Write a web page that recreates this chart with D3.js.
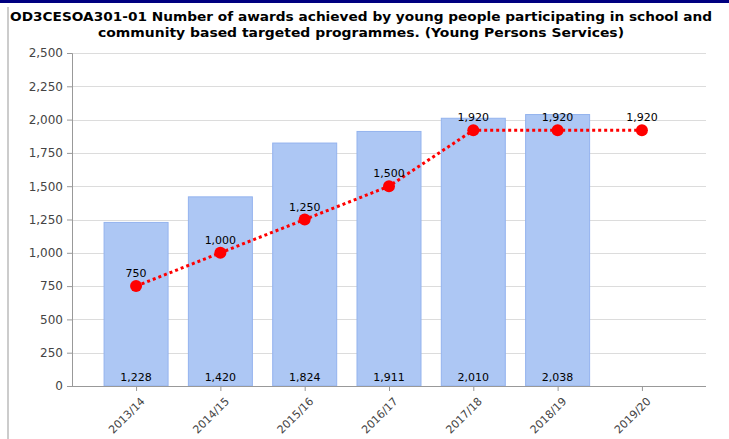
<!DOCTYPE html>
<html><head><meta charset="utf-8">
<script src="https://cdn.jsdelivr.net/npm/d3@7"></script>
<style>body{margin:0;background:#fff}svg{display:block}</style>
</head><body>
<script>
const categories = ["2013/14","2014/15","2015/16","2016/17","2017/18","2018/19","2019/20"];
const actuals = [1228, 1420, 1824, 1911, 2010, 2038, null];
const targets = [750, 1000, 1250, 1500, 1920, 1920, 1920];
const yTicks = [0,250,500,750,1000,1250,1500,1750,2000,2250,2500];
const titleLines = ["OD3CESOA301-01 Number of awards achieved by young people participating in school and",
                    "community based targeted programmes. (Young Persons Services)"];

(function(){
const W = 729, H = 439;
const svg = d3.select("body").append("svg").attr("width", W).attr("height", H);
const font = "Verdana, 'DejaVu Sans', sans-serif";

// frame decorations
svg.append("line").attr("x1",0).attr("x2",W).attr("y1",1.5).attr("y2",1.5).attr("stroke","#000080").attr("stroke-width",3);
svg.append("line").attr("x1",8).attr("x2",8).attr("y1",7).attr("y2",H).attr("stroke","#cccccc").attr("stroke-width",2);

// title
svg.append("text").attr("x",361).attr("y",21).attr("text-anchor","middle")
  .attr("font-family","'DejaVu Sans', sans-serif").attr("font-weight","bold").attr("font-size",13)
  .attr("textLength",702).attr("lengthAdjust","spacingAndGlyphs").attr("fill","#000").text(titleLines[0]);
svg.append("text").attr("x",361).attr("y",37).attr("text-anchor","middle")
  .attr("font-family","'DejaVu Sans', sans-serif").attr("font-weight","bold").attr("font-size",13)
  .attr("textLength",526).attr("lengthAdjust","spacingAndGlyphs").attr("fill","#000").text(titleLines[1]);

const pLeft = 72, pRight = 706, pTop = 53, pBottom = 386;
const x = d3.scalePoint().domain(categories).range([pLeft, pRight]).padding(0.76);
const y = d3.scaleLinear().domain([0, 2500]).range([pBottom, pTop]);
const barW = 64;

// gridlines
svg.append("g").selectAll("line").data(yTicks.filter(d=>d>0)).join("line")
  .attr("x1", pLeft).attr("x2", pRight).attr("y1", d=>Math.round(y(d))+0.5).attr("y2", d=>Math.round(y(d))+0.5)
  .attr("stroke","#dcdcdc").attr("stroke-width",1);

// bars
const barData = categories.map((c,i)=>({c, v: actuals[i]})).filter(d=>d.v!=null);
svg.append("g").selectAll("rect").data(barData).join("rect")
  .attr("x", d=>x(d.c)-barW/2).attr("y", d=>y(d.v))
  .attr("width", barW).attr("height", d=>pBottom - y(d.v))
  .attr("fill","#adc7f4").attr("stroke","#94b3ee").attr("stroke-width",1);

svg.append("g").selectAll("text").data(barData).join("text")
  .attr("x", d=>x(d.c)).attr("y", 381).attr("text-anchor","middle")
  .attr("font-family",font).attr("font-size",11).attr("fill","#000").text(d=>d3.format(",")(d.v));

// y axis
const yAxis = d3.axisLeft(y).tickValues(yTicks).tickSize(5).tickFormat(d3.format(","));
const ga = svg.append("g").attr("transform",`translate(${pLeft},0)`).call(yAxis);
ga.select(".domain").attr("stroke","#999");
ga.selectAll(".tick line").attr("stroke","#999");
ga.selectAll(".tick text").attr("font-family",font).attr("font-size",12).attr("fill","#444").attr("x",-9);

// x axis
const xAxis = d3.axisBottom(x).tickSize(5).tickSizeOuter(0);
const gx = svg.append("g").attr("transform",`translate(0,${pBottom})`).call(xAxis);
gx.select(".domain").attr("stroke","#999").attr("d",`M${pLeft},0.5H${pRight}`);
gx.selectAll(".tick line").attr("stroke","#999");
gx.selectAll(".tick text").attr("font-family",font).attr("font-size",11).attr("fill","#444")
  .attr("text-anchor","end").attr("dy",null).attr("y",0)
  .attr("transform","translate(9,16) rotate(-45)");

// target line
const tData = categories.map((c,i)=>({c, v: targets[i]}));
svg.append("path").datum(tData)
  .attr("d", d3.line().x(d=>x(d.c)).y(d=>y(d.v)))
  .attr("fill","none").attr("stroke","#ff0000").attr("stroke-width",3).attr("stroke-dasharray","3,3");
svg.append("g").selectAll("circle").data(tData).join("circle")
  .attr("cx", d=>x(d.c)).attr("cy", d=>y(d.v)).attr("r",6).attr("fill","#ff0000");
svg.append("g").selectAll("text").data(tData).join("text")
  .attr("x", d=>x(d.c)).attr("y", d=>y(d.v)-9).attr("text-anchor","middle")
  .attr("font-family",font).attr("font-size",11).attr("fill","#000").text(d=>d3.format(",")(d.v));
})();
</script>
</body></html>
